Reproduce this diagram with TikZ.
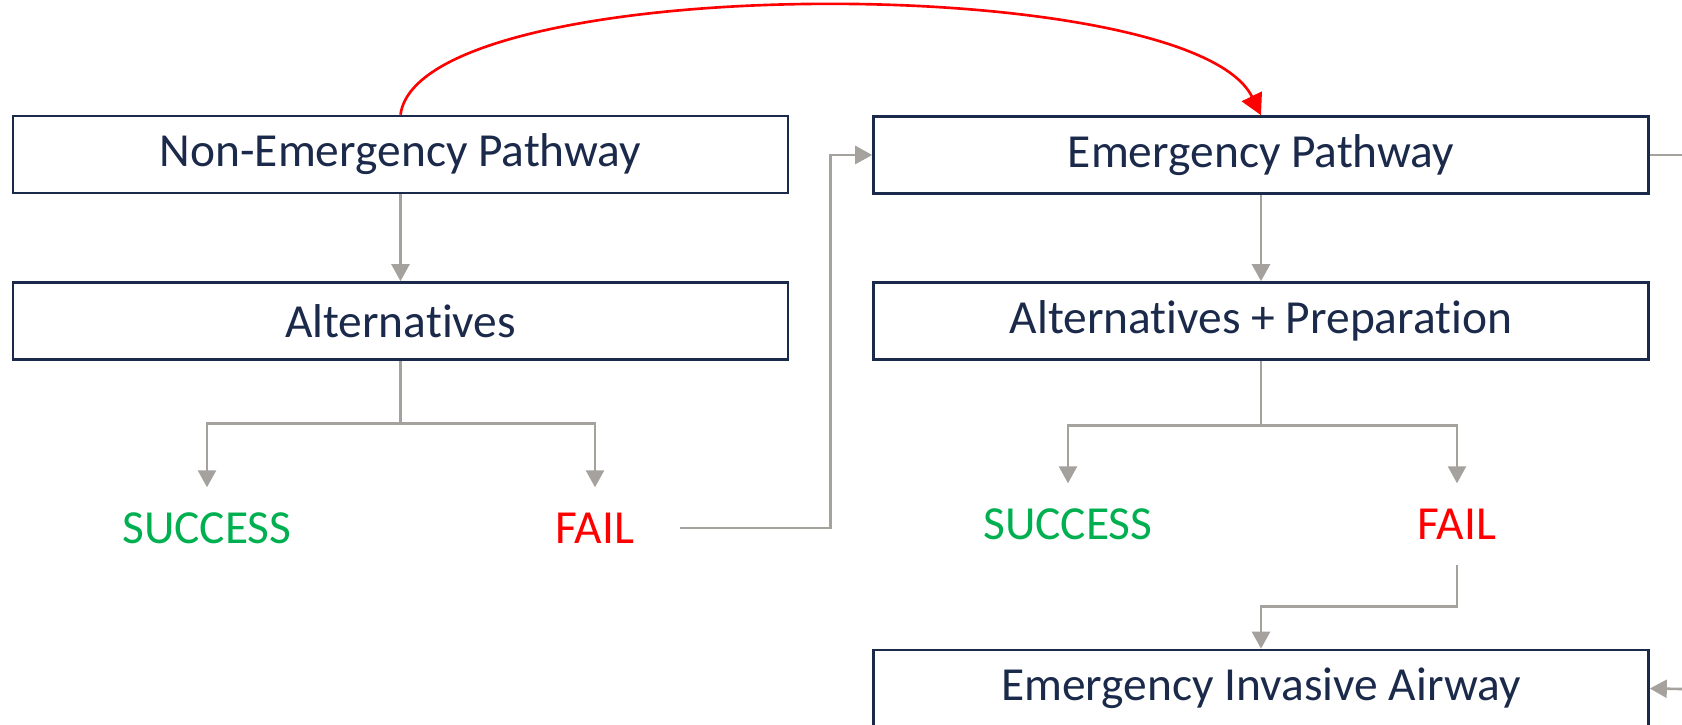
\documentclass[tikz,border=0pt]{standalone}
\usepackage{fontspec}
\setmainfont{Carlito}[Ligatures=NoCommon]
\usetikzlibrary{arrows.meta, positioning}

\definecolor{navy}{HTML}{1B2A4A}
\definecolor{flowgray}{HTML}{A5A29D}
\definecolor{okgreen}{HTML}{00B050}
\definecolor{failred}{HTML}{FF0000}

\begin{document}
\begin{tikzpicture}[
    box/.style={draw=navy, line width=0.75pt, minimum width=7.75cm, minimum height=0.77cm,
                text=navy, font=\fontsize{13.5}{16}\selectfont},
    result/.style={minimum height=0.8cm, inner sep=0pt, font=\fontsize{13.5}{16}\selectfont},
    flow/.style={draw=flowgray, line width=0.75pt, -{Triangle[length=1.7mm,width=1.8mm]}},
    jump/.style={draw=failred, line width=0.75pt, -{Triangle[length=2.1mm,width=2.2mm]}}
]
    \useasboundingbox (0,0) rectangle (16.82,-7.25);
    \path (4.005,-1.545) node[box] (nep) {Non-Emergency Pathway}
          (4.005,-3.21)  node[box] (alt) {Alternatives}
          (12.61,-1.55)  node[box] (ep) {Emergency Pathway}
          (12.61,-3.21)  node[box] (aprep) {Alternatives + Preparation}
          (12.61,-6.885) node[box] (eia) {Emergency Invasive Airway}
          (2.07,-5.28)   node[result, text=okgreen] (succL) {SUCCESS}
          (5.95,-5.28)   node[result, text=failred] (failL) {FAIL}
          (10.68,-5.24)  node[result, text=okgreen] (succR) {SUCCESS}
          (14.57,-5.24)  node[result, text=failred] (failR) {FAIL};
    \coordinate (outTop) at (16.82,-1.55);
    \coordinate (outBot) at (16.82,-6.89);
    % left side
    \draw[flow] (nep) -- (alt);
    \draw[flow] (alt.south) -- ++(0,-0.63) -| (succL.north);
    \draw[flow] (alt.south) -- ++(0,-0.63) -| (failL.north);
    \draw[flow] ([xshift=4.5mm]failL.east) -| ([xshift=-4.2mm]ep.west) -- (ep.west);
    % right side
    \draw[flow] (ep) -- (aprep);
    \draw[flow] (aprep.south) -- ++(0,-0.65) -| (succR.north);
    \draw[flow] (aprep.south) -- ++(0,-0.65) -| (failR.north);
    \draw[flow] (failR.south) -- ++(0,-0.42) -| (eia.north);
    \draw[flowgray, line width=0.75pt] (ep.east) -- (outTop);
    \draw[flow] (outBot) -- (eia.east);
    % shortcut
    \draw[jump] (nep.north) .. controls (4.20,0.30) and (11.90,0.30) .. (ep.north);
\end{tikzpicture}
\end{document}
